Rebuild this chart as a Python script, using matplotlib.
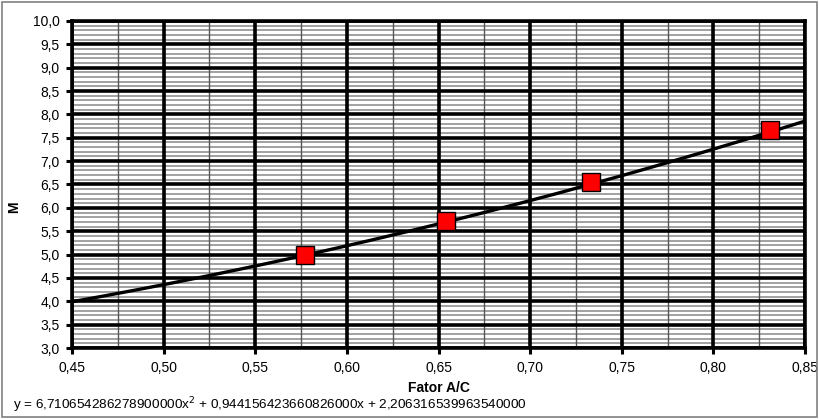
import matplotlib
matplotlib.use("Agg")
import matplotlib.pyplot as plt
import numpy as np
from matplotlib.ticker import MultipleLocator, FuncFormatter

plt.rcParams['font.family'] = ['Liberation Sans', 'DejaVu Sans']

# Measured points
fator_ac = [0.577, 0.654, 0.733, 0.831]
m_values = [5.00, 5.72, 6.55, 7.67]

# Quadratic fit coefficients (a x^2 + b x + c), as printed
coef_a_txt = "6,710654286278900000"
coef_b_txt = "0,944156423660826000"
coef_c_txt = "2,206316539963540000"
coef_a = float(coef_a_txt.replace(',', '.'))
coef_b = float(coef_b_txt.replace(',', '.'))
coef_c = float(coef_c_txt.replace(',', '.'))

x_range = [0.45, 0.85]
y_range = [3.0, 10.0]
x_major, x_minor = 0.05, 0.025
y_major, y_minor = 0.5, 0.1

fig = plt.figure(figsize=(8.19, 4.19), dpi=100)
ax = fig.add_axes([72 / 819, 1 - 348 / 419, (805 - 72) / 819, (348 - 21) / 419])

ax.set_xlim(*x_range)
ax.set_ylim(*y_range)

ax.xaxis.set_major_locator(MultipleLocator(x_major))
ax.yaxis.set_major_locator(MultipleLocator(y_major))
ax.xaxis.set_major_formatter(FuncFormatter(lambda v, p: f"{v:.2f}".replace('.', ',')))
ax.yaxis.set_major_formatter(FuncFormatter(lambda v, p: f"{v:.1f}".replace('.', ',')))

# Grid: minor lines first, then major lines on top
y_min_lines = np.round(np.arange(y_range[0], y_range[1] + 1e-9, y_minor), 3)
x_min_lines = np.round(np.arange(x_range[0], x_range[1] + 1e-9, x_minor), 4)
y_maj_lines = np.round(np.arange(y_range[0], y_range[1] + 1e-9, y_major), 3)
x_maj_lines = np.round(np.arange(x_range[0], x_range[1] + 1e-9, x_major), 4)

ax.hlines(y_min_lines, *x_range, colors='#9a9a9a', linewidth=1.3, zorder=1)
ax.vlines(x_min_lines, *y_range, colors='#555555', linewidth=1.0, zorder=1.2)
ax.hlines(y_maj_lines, *x_range, colors='black', linewidth=2.6, zorder=2)
ax.vlines(x_maj_lines, *y_range, colors='black', linewidth=2.6, zorder=2)

for s in ax.spines.values():
    s.set_linewidth(2.6)
    s.set_color('black')
    s.set_zorder(3)

ax.tick_params(which='major', direction='out', length=4, width=2.2, labelsize=10, pad=5)

# Trend line from the fitted coefficients
xs = np.linspace(x_range[0], x_range[1], 200)
ys = coef_a * xs ** 2 + coef_b * xs + coef_c
ax.plot(xs, ys, color='black', linewidth=2.4, zorder=4)

ax.plot(fator_ac, m_values, linestyle='none', marker='s', markersize=13,
        markerfacecolor='#ff0000', markeredgecolor='black', markeredgewidth=1.0,
        zorder=5, clip_on=False)

ax.set_xlabel('Fator A/C', fontsize=10, fontweight='bold')
ax.xaxis.set_label_coords(0.5, -0.10)
ax.set_ylabel('M', fontsize=10, fontweight='bold')
ax.yaxis.set_label_coords(-0.070, 0.43)

eq = f"y = {coef_a_txt}x$^{{2}}$ + {coef_b_txt}x + {coef_c_txt}"
fig.text(13 / 819, 1 - 405 / 419, eq, fontsize=9.7, va='center', ha='left')

# Outer frame
fig.patches.append(plt.Rectangle((0.0025, 0.004), 0.995, 0.992, transform=fig.transFigure,
                                 fill=False, edgecolor='#808080', linewidth=1.2))

fig.savefig('out.png', dpi=100)
